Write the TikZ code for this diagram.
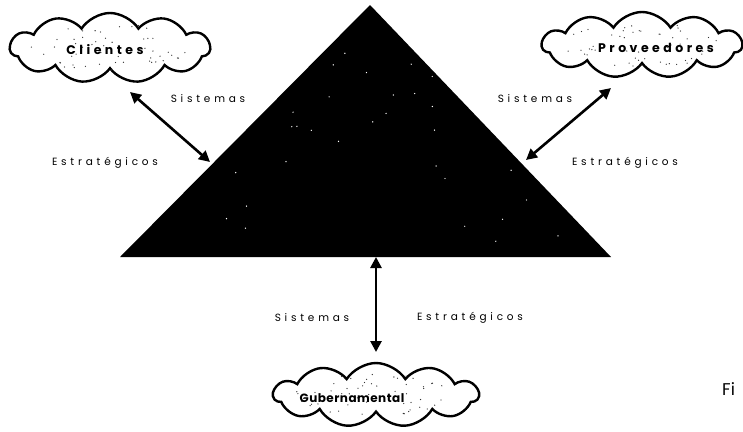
\documentclass[tikz,border=0pt]{standalone}
\usepackage{fontspec}
\setmainfont{Poppins}
\newfontfamily\lblfont[LetterSpace=36]{Poppins}
\newfontfamily\cloudfont[LetterSpace=28]{Poppins Bold}
\newfontfamily\narrowcloudfont[LetterSpace=4]{Poppins Bold}
\usetikzlibrary{shapes.symbols,arrows.meta}
\begin{document}
\begin{tikzpicture}[x=1pt,y=-1pt,
  cloudbox/.style={cloud, draw=black, line width=2.4pt, fill=white, cloud puffs=11, cloud puff arc=115, cloud ignores aspect, inner sep=0pt},
  cloudtext/.style={font=\cloudfont\fontsize{12.5}{14}\selectfont, inner sep=0pt},
  lbl/.style={font=\lblfont\fontsize{10.5}{12}\selectfont, inner sep=0pt},
  link/.style={line width=2.6pt, {Triangle[length=11pt,width=11pt]}-{Triangle[length=11pt,width=11pt]}}
]
\useasboundingbox (0,0) rectangle (743,431);
% pyramid
\coordinate (apex) at (370,5);
\coordinate (bl) at (120,257);
\coordinate (br) at (611,257);
\fill[black] (apex) -- (br) -- (bl) -- cycle;
\pgfmathsetseed{7}
\foreach \i in {1,...,30}{
  \pgfmathsetmacro{\ty}{rnd}
  \pgfmathsetmacro{\tx}{rnd}
  \fill[white] ({370+(\tx-0.5)*0.9*491*(0.15+\ty*0.85)},{5+(0.15+\ty*0.85)*252*0.95}) circle (0.7pt);
}
% connection points on the pyramid
\coordinate (pl) at (210,162);
\coordinate (pr) at (526,160);
\coordinate (pb) at (376,257);
% clouds
\node[cloudbox, minimum width=200pt, minimum height=70pt] (cli) at (110,48) {};
\node[cloudbox, minimum width=200pt, minimum height=66pt] (pro) at (642,45) {};
\node[cloudbox, minimum width=205pt, minimum height=64pt] (gub) at (376,395) {};
\foreach \cx/\cy/\w/\h in {110/48/80/24, 642/45/80/22, 376/395/82/21}{
  \foreach \i in {1,...,55}{
    \pgfmathsetmacro{\ang}{rnd*360}
    \pgfmathsetmacro{\rr}{sqrt(rnd)}
    \fill[black!80] ({\cx+\w*\rr*cos(\ang)},{\cy+\h*\rr*sin(\ang)}) circle (0.65pt);
  }
}
\node[cloudtext] (clit) at (105,50) {Clientes};
\node[cloudtext] (prot) at (656,48) {Proveedores};
\node[cloudtext, font=\narrowcloudfont\fontsize{12}{14}\selectfont] (gubt) at (352,398) {Gubernamental};
% arrows
\coordinate (cla) at (130,92);
\coordinate (pra) at (611,88);
\coordinate (gba) at (376,352);
\draw[link] (cla) -- (pl);
\draw[link] (pra) -- (pr);
\draw[link] (pb) -- (gba);
% labels
\node[lbl] (s1) at (208,99) {Sistemas};
\node[lbl] (e1) at (105,163) {Estratégicos};
\node[lbl] (s2) at (535,99) {Sistemas};
\node[lbl] (e2) at (625,163) {Estratégicos};
\node[lbl] (s3) at (312,318) {Sistemas};
\node[lbl] (e3) at (470,318) {Estratégicos};
\node[font=\fontsize{17}{19}\selectfont, inner sep=0pt, anchor=west] (fig) at (722,389) {Fi};
\end{tikzpicture}
\end{document}
